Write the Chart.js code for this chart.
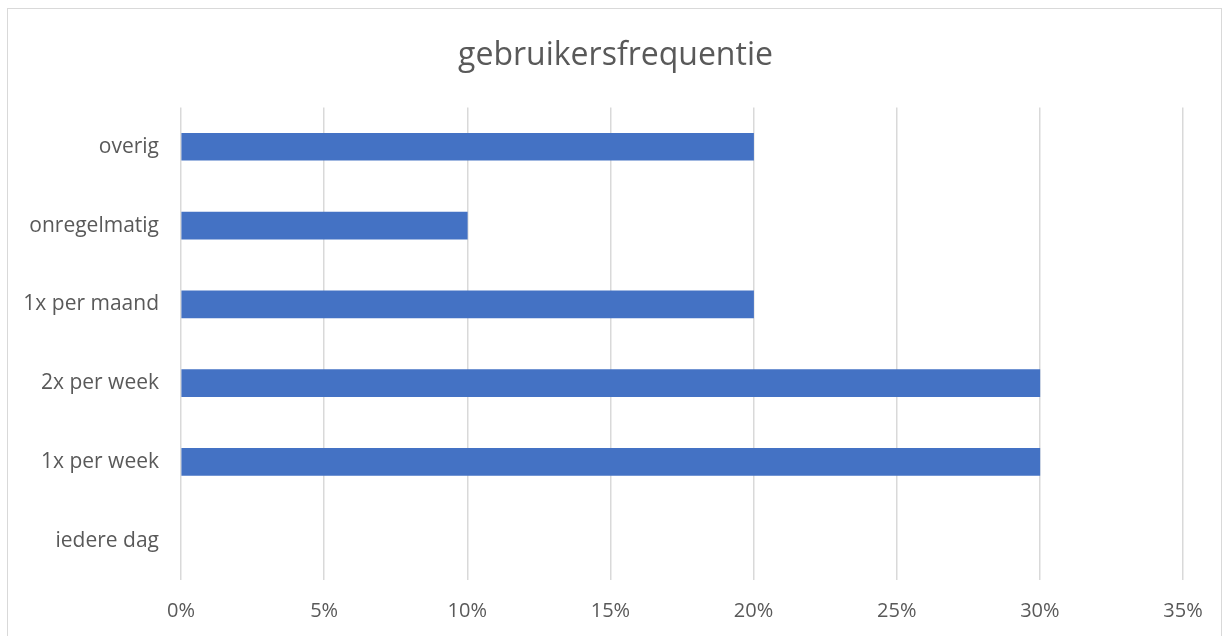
<!DOCTYPE html>
<html>
<head>
<meta charset="utf-8">
<script src="https://cdn.jsdelivr.net/npm/chart.js@4"></script>
<style>
    html, body { margin: 0; padding: 0; background: #fff; overflow: hidden; }
    #wrap { position: relative; width: 1231px; height: 636px; }
    #frame { position: absolute; left: 7px; top: 8px; width: 1215px; height: 640px; border: 1px solid #d9d9d9; box-sizing: border-box; }
    canvas { position: absolute; left: 0; top: 0; }
</style>
</head>
<body>
<div id="wrap">
    <div id="frame"></div>
    <canvas id="chart" width="1231" height="636"></canvas>
</div>
<script>
// Data
const categories = ["overig", "onregelmatig", "1x per maand", "2x per week", "1x per week", "iedere dag"];
const percentages = [20, 10, 20, 30, 30, 0];
const chartTitle = "gebruikersfrequentie";

const fontFamily = "'Open Sans', 'Liberation Sans', sans-serif";
const textColor = "#595959";

const ctx = document.getElementById("chart").getContext("2d");
const chart = new Chart(ctx, {
    type: "bar",
    data: {
        labels: categories,
        datasets: [
            {
                label: chartTitle,
                data: percentages,
                // a zero bar is not drawn at all
                backgroundColor: (c) => (c.raw === 0 ? "rgba(0,0,0,0)" : "#4472C4"),
                barThickness: 27,
            },
        ],
    },
    options: {
        indexAxis: "y",
        responsive: false,
        animation: false,
        layout: { padding: 0 },
        plugins: {
            legend: { display: false },
            tooltip: { enabled: false },
            title: {
                display: true,
                text: chartTitle,
                color: textColor,
                font: { family: fontFamily, size: 32, weight: "normal" },
                padding: { top: 37, bottom: 32 },
            },
        },
        scales: {
            x: {
                min: 0,
                max: 35,
                ticks: {
                    stepSize: 5,
                    color: textColor,
                    padding: 19,
                    font: { family: fontFamily, size: 20 },
                    callback: (v) => v + "%",
                },
                grid: { color: "#d9d9d9", lineWidth: 1.5, drawTicks: false },
                border: { display: false },
                afterFit: (s) => { s.height = 56; },
            },
            y: {
                ticks: {
                    color: textColor,
                    padding: 22,
                    font: { family: fontFamily, size: 21 },
                },
                grid: { display: false, drawTicks: false },
                border: { display: false },
                afterFit: (s) => { s.width = 181; },
            },
            // empty right axis only keeps room on the right side
            yRight: {
                position: "right",
                ticks: { display: false },
                grid: { display: false, drawTicks: false },
                border: { display: false },
                afterFit: (s) => { s.width = 48; },
            },
        },
    },
});
</script>
</body>
</html>
